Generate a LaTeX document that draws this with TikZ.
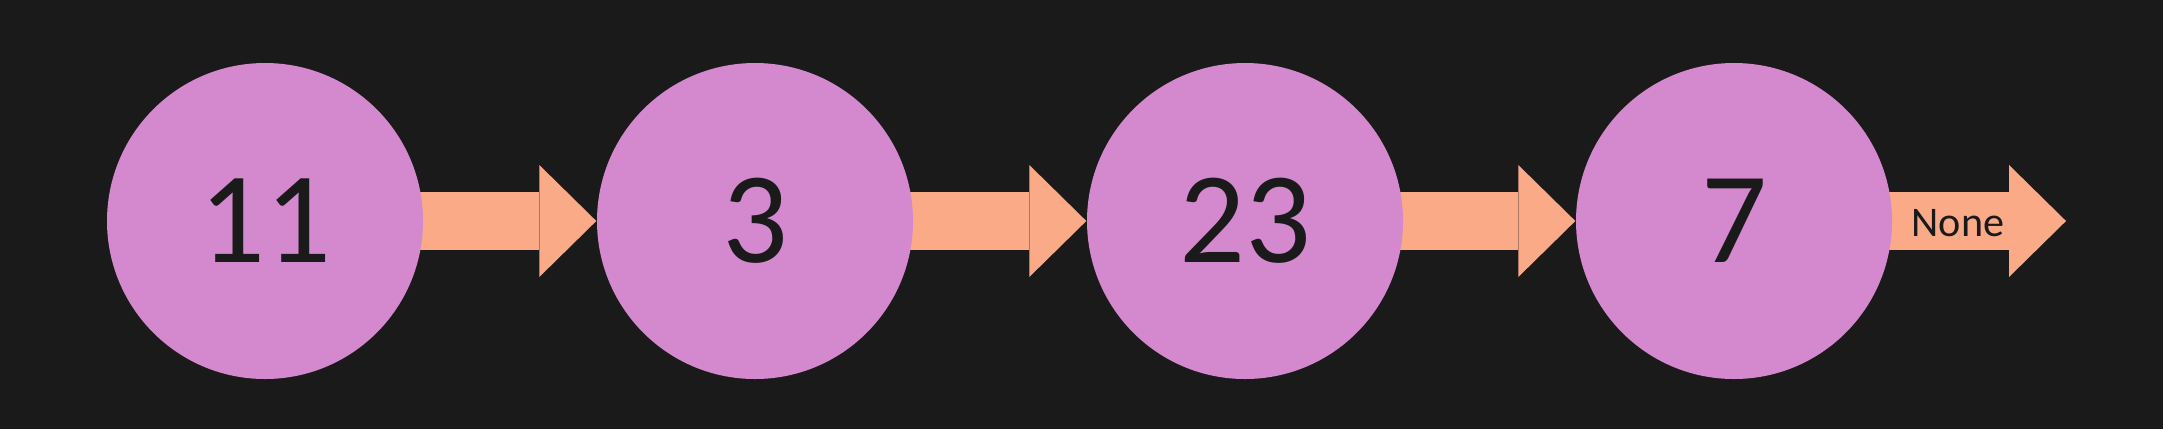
\documentclass[tikz,border=0pt]{standalone}
\usepackage{fontspec}
\setmainfont{Carlito}
\usepackage{xcolor}
\definecolor{mybg}{RGB}{26,26,26}
\definecolor{mypink}{RGB}{212,136,205}
\definecolor{mypeach}{RGB}{251,170,135}
\usetikzlibrary{arrows.meta}
\pgfdeclarelayer{back}
\pgfsetlayers{back,main}
\begin{document}
\begin{tikzpicture}
	\tikzstyle{knot}=[circle,fill=mypink,inner sep=0pt,minimum size=3.16cm,text=mybg,font=\fontsize{37}{40}\selectfont];
	\tikzstyle{fat}=[draw=mypeach,line width=0.58cm,-{Triangle[length=0.57cm,width=1.12cm,line width=0pt]}];
	\begin{pgfonlayer}{back}
		\fill[mybg] (0,0) rectangle (21.63,4.29);
	\end{pgfonlayer}
	\node[knot] (11) at (02.65,2.08) {11};
	\node[knot] (3)  at (07.55,2.08) {3};
	\node[knot] (23) at (12.45,2.08) {23};
	\node[knot] (7)  at (17.34,2.08) {7};
	\coordinate (end) at (20.66,2.08);
	\begin{pgfonlayer}{back}
		\draw[fat] (11.center) to (3);
		\draw[fat] (3.center) to (23);
		\draw[fat] (23.center) to (7);
		\draw[fat] (7.center) to (end);
	\end{pgfonlayer}
	\node[text=mybg,font=\fontsize{12}{14}\selectfont] (none) at (19.58,2.06) {None};
\end{tikzpicture}
\end{document}
